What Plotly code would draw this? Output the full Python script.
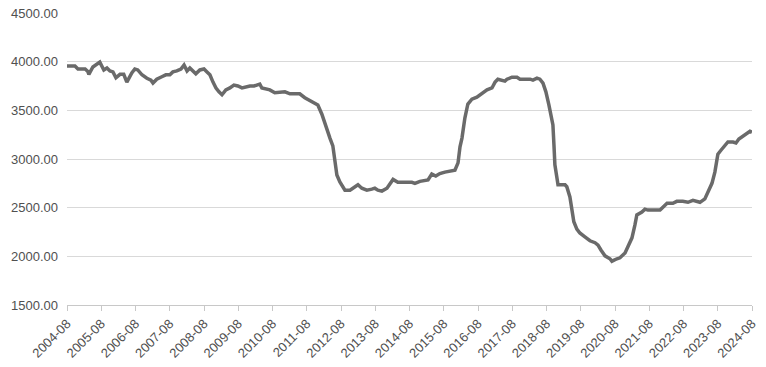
import plotly.graph_objects as go

dates = [
    "2004-08-01", "2004-10-25", "2004-11-26", "2005-02-10", "2005-03-11", "2005-03-22",
    "2005-05-04", "2005-06-16", "2005-07-17", "2005-08-29", "2005-10-01", "2005-11-02",
    "2005-12-04", "2006-01-05", "2006-02-17", "2006-03-29", "2006-05-01", "2006-06-23",
    "2006-07-25", "2006-08-26", "2006-10-09", "2006-12-01", "2007-01-13", "2007-02-04",
    "2007-03-16", "2007-05-09", "2007-06-21", "2007-08-03", "2007-09-04", "2007-10-16",
    "2007-11-29", "2008-01-01", "2008-02-02", "2008-03-03", "2008-04-05", "2008-05-06",
    "2008-06-18", "2008-08-01", "2008-09-02", "2008-10-03", "2008-11-05", "2008-12-07",
    "2009-01-08", "2009-02-09", "2009-03-22", "2009-05-04", "2009-06-16", "2009-07-28",
    "2009-09-10", "2009-10-22", "2009-12-04", "2010-01-16", "2010-02-28", "2010-03-19",
    "2010-04-10", "2010-07-04", "2010-08-26", "2010-12-12", "2011-02-04", "2011-05-19",
    "2011-07-12", "2011-09-25", "2011-11-28", "2012-01-10", "2012-02-22", "2012-04-05",
    "2012-05-06", "2012-05-27", "2012-06-18", "2012-07-20", "2012-09-12", "2012-11-05",
    "2012-12-28", "2013-01-29", "2013-03-11", "2013-05-04", "2013-06-26", "2013-07-28",
    "2013-08-29", "2013-10-11", "2013-12-04", "2014-02-07", "2014-03-30", "2014-06-13",
    "2014-08-27", "2014-09-28", "2014-11-21", "2015-02-15", "2015-03-27", "2015-05-09",
    "2015-06-21", "2015-08-14", "2015-10-27", "2015-11-29", "2016-01-01", "2016-01-22",
    "2016-02-12", "2016-03-14", "2016-04-15", "2016-05-28", "2016-07-20", "2016-09-23",
    "2016-11-05", "2016-12-28", "2017-01-30", "2017-03-01", "2017-04-13", "2017-05-15",
    "2017-06-06", "2017-07-29", "2017-09-21", "2017-10-23", "2018-02-08", "2018-03-10",
    "2018-04-22", "2018-05-23", "2018-06-25", "2018-07-26", "2018-08-27", "2018-09-18",
    "2018-10-09", "2018-10-20", "2018-10-30", "2018-11-21", "2018-12-02", "2019-02-15",
    "2019-03-06", "2019-04-08", "2019-04-29", "2019-05-20", "2019-06-21", "2019-07-23",
    "2019-09-15", "2019-11-08", "2020-01-01", "2020-02-02", "2020-03-04", "2020-04-16",
    "2020-06-08", "2020-06-29", "2020-08-22", "2020-09-23", "2020-11-16", "2020-12-17",
    "2021-01-29", "2021-03-01", "2021-03-22", "2021-05-15", "2021-06-16", "2021-07-18",
    "2021-08-30", "2021-10-22", "2021-11-24", "2021-12-25", "2022-02-07", "2022-04-10",
    "2022-05-22", "2022-07-25", "2022-09-18", "2022-11-10", "2022-12-22", "2023-01-24",
    "2023-03-17", "2023-04-18", "2023-06-01", "2023-07-02", "2023-08-03", "2023-09-05",
    "2023-10-17", "2023-11-18", "2024-01-11", "2024-02-12", "2024-03-14", "2024-04-26",
    "2024-06-08", "2024-07-10", "2024-08-01",
]

values = [
    3955, 3955, 3925, 3925, 3900, 3870,
    3945, 3975, 3995, 3915, 3935, 3905,
    3895, 3835, 3870, 3870, 3790, 3885,
    3925, 3915, 3865, 3830, 3810, 3780,
    3820, 3845, 3865, 3865, 3895, 3905,
    3925, 3965, 3905, 3935, 3905, 3875,
    3915, 3925, 3895, 3865, 3790, 3730,
    3690, 3660, 3710, 3730, 3760, 3750,
    3730, 3740, 3750, 3750, 3760, 3770,
    3730, 3710, 3680, 3690, 3670, 3670,
    3630, 3585, 3555, 3460, 3350, 3215,
    3135, 2990, 2835, 2765, 2680, 2680,
    2715, 2735, 2700, 2680, 2690, 2700,
    2680, 2670, 2700, 2790, 2760, 2760,
    2760, 2750, 2770, 2785, 2845, 2825,
    2850, 2865, 2875, 2885, 2960, 3125,
    3215, 3420, 3565, 3615, 3635, 3680,
    3710, 3730, 3790, 3820, 3810, 3800,
    3820, 3840, 3840, 3820, 3820, 3810,
    3830, 3820, 3780, 3690, 3555, 3450,
    3350, 3145, 2940, 2805, 2735, 2735,
    2715, 2610, 2475, 2355, 2280, 2240,
    2200, 2160, 2140, 2115, 2065, 2005,
    1975, 1950, 1975, 1985, 2035, 2100,
    2190, 2320, 2425, 2455, 2485, 2475,
    2475, 2475, 2475, 2505, 2545, 2545,
    2565, 2565, 2555, 2575, 2565, 2555,
    2590, 2650, 2750, 2865, 3050, 3090,
    3145, 3175, 3175, 3165, 3205, 3235,
    3255, 3285, 3275,
]

tick_dates = [f"{y}-08-01" for y in range(2004, 2025)]
tick_labels = [f"{y}-08" for y in range(2004, 2025)]
y_ticks = [1500, 2000, 2500, 3000, 3500, 4000, 4500]

fig = go.Figure()
fig.add_trace(go.Scatter(
    x=dates, y=values, mode="lines",
    line=dict(color="#6a6a6a", width=3.5),
    showlegend=False,
))

font = dict(family="Liberation Sans, Arial, sans-serif", size=13, color="#505050")

fig.update_layout(
    width=766, height=367,
    margin=dict(l=67, r=14, t=13, b=62),
    paper_bgcolor="white", plot_bgcolor="white",
    font=font,
)
fig.update_xaxes(
    type="date",
    range=["2004-08-01", "2024-08-01"],
    tickvals=tick_dates, ticktext=tick_labels,
    tickangle=-45,
    automargin=False,
    showgrid=False,
    showline=True, linecolor="#c8c8c8", linewidth=1,
    ticks="outside", ticklen=5, tickcolor="#c8c8c8",
    tickfont=font,
)
fig.update_yaxes(
    range=[1500, 4500],
    tickvals=y_ticks,
    tickformat=".2f",
    automargin=False,
    showgrid=True, gridcolor="#d9d9d9", gridwidth=1,
    zeroline=False, showline=False,
    ticks="", ticklabelstandoff=8,
    tickfont=font,
)

fig.write_html("out.html")
